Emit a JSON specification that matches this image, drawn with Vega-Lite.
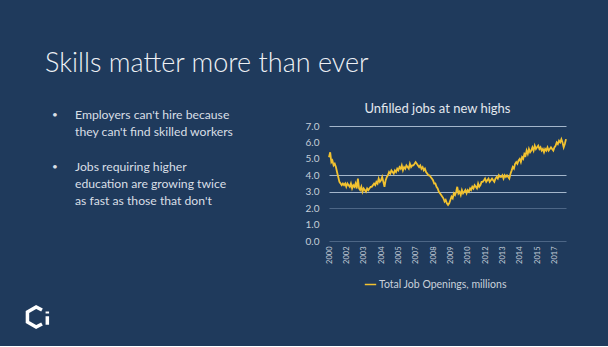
{
  "$schema": "https://vega.github.io/schema/vega-lite/v6.json",
  "background": "#1f3a5c",
  "padding": {"left": 20, "top": 50, "right": 38, "bottom": 11},
  "title": {"text": "Skills matter more than ever", "anchor": "start", "dx": 25, "font": "Lato", "fontWeight": 300, "fontSize": 27, "color": "#eef1f5", "offset": 25},
  "config": {"view": {"stroke": null}},
  "datasets": {
    "bullets": [
      {"line": 1, "text": "Employers can't hire because", "bullet": true},
      {"line": 2, "text": "they can't find skilled workers", "bullet": false},
      {"line": 4, "text": "Jobs requiring higher", "bullet": true},
      {"line": 5, "text": "education are growing twice", "bullet": false},
      {"line": 6, "text": "as fast as those that don't", "bullet": false}
    ],
    "jobs": [
      {"date":"2000-12-01","value":5.1},{"date":"2001-01-01","value":5.4},{"date":"2001-02-01","value":4.8},{"date":"2001-03-01","value":4.9},{"date":"2001-04-01","value":4.6},{"date":"2001-05-01","value":4.7},{"date":"2001-06-01","value":4.5},{"date":"2001-07-01","value":4.2},{"date":"2001-08-01","value":3.9},{"date":"2001-09-01","value":3.6},{"date":"2001-10-01","value":3.5},{"date":"2001-11-01","value":3.4},{"date":"2001-12-01","value":3.5},
      {"date":"2002-01-01","value":3.4},{"date":"2002-02-01","value":3.5},{"date":"2002-03-01","value":3.3},{"date":"2002-04-01","value":3.5},{"date":"2002-05-01","value":3.4},{"date":"2002-06-01","value":3.3},{"date":"2002-07-01","value":3.5},{"date":"2002-08-01","value":3.2},{"date":"2002-09-01","value":3.4},{"date":"2002-10-01","value":3.3},{"date":"2002-11-01","value":3.5},{"date":"2002-12-01","value":3.2},
      {"date":"2003-01-01","value":3.8},{"date":"2003-02-01","value":3.2},{"date":"2003-03-01","value":3.1},{"date":"2003-04-01","value":3.3},{"date":"2003-05-01","value":3.0},{"date":"2003-06-01","value":3.2},{"date":"2003-07-01","value":3.1},{"date":"2003-08-01","value":3.0},{"date":"2003-09-01","value":3.2},{"date":"2003-10-01","value":3.1},{"date":"2003-11-01","value":3.2},{"date":"2003-12-01","value":3.3},
      {"date":"2004-01-01","value":3.3},{"date":"2004-02-01","value":3.4},{"date":"2004-03-01","value":3.5},{"date":"2004-04-01","value":3.4},{"date":"2004-05-01","value":3.6},{"date":"2004-06-01","value":3.5},{"date":"2004-07-01","value":3.8},{"date":"2004-08-01","value":3.6},{"date":"2004-09-01","value":3.7},{"date":"2004-10-01","value":3.9},{"date":"2004-11-01","value":3.6},{"date":"2004-12-01","value":3.3},
      {"date":"2005-01-01","value":3.7},{"date":"2005-02-01","value":3.9},{"date":"2005-03-01","value":4.0},{"date":"2005-04-01","value":4.2},{"date":"2005-05-01","value":4.1},{"date":"2005-06-01","value":4.3},{"date":"2005-07-01","value":4.2},{"date":"2005-08-01","value":4.1},{"date":"2005-09-01","value":4.3},{"date":"2005-10-01","value":4.2},{"date":"2005-11-01","value":4.4},{"date":"2005-12-01","value":4.3},
      {"date":"2006-01-01","value":4.5},{"date":"2006-02-01","value":4.4},{"date":"2006-03-01","value":4.6},{"date":"2006-04-01","value":4.3},{"date":"2006-05-01","value":4.5},{"date":"2006-06-01","value":4.4},{"date":"2006-07-01","value":4.6},{"date":"2006-08-01","value":4.5},{"date":"2006-09-01","value":4.4},{"date":"2006-10-01","value":4.7},{"date":"2006-11-01","value":4.5},{"date":"2006-12-01","value":4.6},
      {"date":"2007-01-01","value":4.6},{"date":"2007-02-01","value":4.7},{"date":"2007-03-01","value":4.8},{"date":"2007-04-01","value":4.7},{"date":"2007-05-01","value":4.6},{"date":"2007-06-01","value":4.5},{"date":"2007-07-01","value":4.6},{"date":"2007-08-01","value":4.4},{"date":"2007-09-01","value":4.5},{"date":"2007-10-01","value":4.3},{"date":"2007-11-01","value":4.4},{"date":"2007-12-01","value":4.2},
      {"date":"2008-01-01","value":4.1},{"date":"2008-02-01","value":4.0},{"date":"2008-03-01","value":4.0},{"date":"2008-04-01","value":3.9},{"date":"2008-05-01","value":3.8},{"date":"2008-06-01","value":3.7},{"date":"2008-07-01","value":3.5},{"date":"2008-08-01","value":3.5},{"date":"2008-09-01","value":3.3},{"date":"2008-10-01","value":3.2},{"date":"2008-11-01","value":3.0},{"date":"2008-12-01","value":2.9},
      {"date":"2009-01-01","value":2.8},{"date":"2009-02-01","value":2.7},{"date":"2009-03-01","value":2.6},{"date":"2009-04-01","value":2.4},{"date":"2009-05-01","value":2.5},{"date":"2009-06-01","value":2.3},{"date":"2009-07-01","value":2.2},{"date":"2009-08-01","value":2.3},{"date":"2009-09-01","value":2.5},{"date":"2009-10-01","value":2.7},{"date":"2009-11-01","value":2.6},{"date":"2009-12-01","value":2.9},
      {"date":"2010-01-01","value":2.8},{"date":"2010-02-01","value":3.0},{"date":"2010-03-01","value":3.3},{"date":"2010-04-01","value":2.9},{"date":"2010-05-01","value":3.0},{"date":"2010-06-01","value":2.8},{"date":"2010-07-01","value":3.1},{"date":"2010-08-01","value":2.9},{"date":"2010-09-01","value":3.0},{"date":"2010-10-01","value":3.1},{"date":"2010-11-01","value":2.9},{"date":"2010-12-01","value":3.1},
      {"date":"2011-01-01","value":3.0},{"date":"2011-02-01","value":3.2},{"date":"2011-03-01","value":3.1},{"date":"2011-04-01","value":3.3},{"date":"2011-05-01","value":3.2},{"date":"2011-06-01","value":3.4},{"date":"2011-07-01","value":3.3},{"date":"2011-08-01","value":3.2},{"date":"2011-09-01","value":3.5},{"date":"2011-10-01","value":3.3},{"date":"2011-11-01","value":3.4},{"date":"2011-12-01","value":3.6},
      {"date":"2012-01-01","value":3.6},{"date":"2012-02-01","value":3.7},{"date":"2012-03-01","value":3.8},{"date":"2012-04-01","value":3.6},{"date":"2012-05-01","value":3.7},{"date":"2012-06-01","value":3.8},{"date":"2012-07-01","value":3.6},{"date":"2012-08-01","value":3.7},{"date":"2012-09-01","value":3.8},{"date":"2012-10-01","value":3.7},{"date":"2012-11-01","value":3.6},{"date":"2012-12-01","value":3.8},
      {"date":"2013-01-01","value":3.9},{"date":"2013-02-01","value":3.8},{"date":"2013-03-01","value":4.0},{"date":"2013-04-01","value":3.9},{"date":"2013-05-01","value":3.9},{"date":"2013-06-01","value":4.0},{"date":"2013-07-01","value":3.8},{"date":"2013-08-01","value":4.0},{"date":"2013-09-01","value":3.9},{"date":"2013-10-01","value":4.0},{"date":"2013-11-01","value":3.9},{"date":"2013-12-01","value":3.8},
      {"date":"2014-01-01","value":4.1},{"date":"2014-02-01","value":4.3},{"date":"2014-03-01","value":4.5},{"date":"2014-04-01","value":4.4},{"date":"2014-05-01","value":4.7},{"date":"2014-06-01","value":4.8},{"date":"2014-07-01","value":4.7},{"date":"2014-08-01","value":4.9},{"date":"2014-09-01","value":5.0},{"date":"2014-10-01","value":4.8},{"date":"2014-11-01","value":5.1},{"date":"2014-12-01","value":5.0},
      {"date":"2015-01-01","value":5.3},{"date":"2015-02-01","value":5.2},{"date":"2015-03-01","value":5.5},{"date":"2015-04-01","value":5.3},{"date":"2015-05-01","value":5.6},{"date":"2015-06-01","value":5.4},{"date":"2015-07-01","value":5.5},{"date":"2015-08-01","value":5.7},{"date":"2015-09-01","value":5.5},{"date":"2015-10-01","value":5.8},{"date":"2015-11-01","value":5.6},{"date":"2015-12-01","value":5.7},
      {"date":"2016-01-01","value":5.8},{"date":"2016-02-01","value":5.6},{"date":"2016-03-01","value":5.7},{"date":"2016-04-01","value":5.5},{"date":"2016-05-01","value":5.6},{"date":"2016-06-01","value":5.4},{"date":"2016-07-01","value":5.6},{"date":"2016-08-01","value":5.5},{"date":"2016-09-01","value":5.7},{"date":"2016-10-01","value":5.5},{"date":"2016-11-01","value":5.6},{"date":"2016-12-01","value":5.7},
      {"date":"2017-01-01","value":5.6},{"date":"2017-02-01","value":5.5},{"date":"2017-03-01","value":5.7},{"date":"2017-04-01","value":5.8},{"date":"2017-05-01","value":6.0},{"date":"2017-06-01","value":5.9},{"date":"2017-07-01","value":6.1},{"date":"2017-08-01","value":6.0},{"date":"2017-09-01","value":6.2},{"date":"2017-10-01","value":6.0},{"date":"2017-11-01","value":5.7},{"date":"2017-12-01","value":5.9},
      {"date":"2018-01-01","value":6.2}
    ]
  },
  "spacing": 14,
  "hconcat": [
    {
      "width": 271,
      "height": 200,
      "data": {"name": "bullets"},
      "layer": [
        {
          "mark": {"type": "text", "align": "left", "baseline": "middle", "font": "Lato", "fontSize": 12.2, "color": "#d9dfe6"},
          "encoding": {
            "x": {"datum": 2.03, "type": "quantitative", "scale": {"domain": [0, 10]}, "axis": null},
            "y": {"field": "line", "type": "quantitative", "scale": {"domain": [1.64, 13.2], "reverse": true}, "axis": null},
            "text": {"field": "text"}
          }
        },
        {
          "transform": [{"filter": "datum.bullet"}],
          "mark": {"type": "text", "align": "center", "baseline": "middle", "font": "Lato", "fontSize": 10, "color": "#d9dfe6"},
          "encoding": {
            "x": {"datum": 1.29, "type": "quantitative", "scale": {"domain": [0, 10]}, "axis": null},
            "y": {"field": "line", "type": "quantitative", "scale": {"domain": [1.64, 13.2], "reverse": true}, "axis": null},
            "text": {"value": "•"}
          }
        },
        {
          "data": {"values": [{"logo": "Ci"}]},
          "mark": {"type": "point", "shape": "M0.12,-0.5L-0.3,-0.72L-0.92,-0.36L-0.92,0.36L-0.3,0.72L0.12,0.5M0.5,-0.05L0.5,0.55M0.5,-0.4L0.5,-0.25", "filled": false, "stroke": "#ffffff", "strokeWidth": 3.5, "size": 784, "opacity": 1},
          "encoding": {
            "x": {"datum": 0.75, "type": "quantitative", "scale": {"domain": [0, 10]}, "axis": null},
            "y": {"datum": 12.68, "type": "quantitative", "scale": {"domain": [1.64, 13.2], "reverse": true}, "axis": null}
          }
        }
      ]
    },
    {
      "width": 237,
      "height": 115,
      "data": {"name": "jobs"},
      "title": {"text": "Unfilled jobs at new highs", "font": "Lato", "fontSize": 13, "fontWeight": 400, "color": "#e3e8ee", "offset": 5, "dx": -10, "anchor": "middle"},
      "mark": {"type": "line", "strokeWidth": 1.8},
      "encoding": {
        "x": {
          "field": "date", "type": "temporal",
          "scale": {"type": "utc", "domain": [{"year": 2000, "month": 12, "date": 1, "utc": true}, {"year": 2018, "month": 1, "date": 1, "utc": true}]},
          "axis": {
            "values": [
              {"year": 2000, "month": 12, "date": 1, "utc": true},
              {"year": 2002, "month": 3, "date": 1, "utc": true},
              {"year": 2003, "month": 6, "date": 1, "utc": true},
              {"year": 2004, "month": 9, "date": 1, "utc": true},
              {"year": 2005, "month": 12, "date": 1, "utc": true},
              {"year": 2007, "month": 3, "date": 1, "utc": true},
              {"year": 2008, "month": 6, "date": 1, "utc": true},
              {"year": 2009, "month": 9, "date": 1, "utc": true},
              {"year": 2010, "month": 12, "date": 1, "utc": true},
              {"year": 2012, "month": 3, "date": 1, "utc": true},
              {"year": 2013, "month": 6, "date": 1, "utc": true},
              {"year": 2014, "month": 9, "date": 1, "utc": true},
              {"year": 2015, "month": 12, "date": 1, "utc": true},
              {"year": 2017, "month": 3, "date": 1, "utc": true}
            ],
            "format": "%Y", "labelAngle": 270, "labelFont": "Lato", "labelFontSize": 7.5, "labelColor": "#c5ced9",
            "ticks": false, "domain": false, "grid": false, "title": null, "labelPadding": 5, "labelOverlap": false, "labelFlush": false
          }
        },
        "y": {
          "field": "value", "type": "quantitative",
          "scale": {"domain": [0, 7], "nice": false},
          "axis": {
            "values": [0, 1, 2, 3, 4, 5, 6, 7], "format": ".1f", "title": null,
            "labelFont": "Lato", "labelFontSize": 10, "labelColor": "#c5ced9", "labelPadding": 10,
            "ticks": false, "domain": false, "grid": true, "gridWidth": 1.2,
            "gridColor": {"condition": {"test": "datum.value == 2 || datum.value == 0", "value": "#4d6686"}, "value": "#a4b6cb"},
            "gridOpacity": {"condition": {"test": "datum.value == 1 || datum.value == 5 || datum.value == 6", "value": 0}, "value": 1}
          }
        },
        "color": {
          "datum": "Total Job Openings, millions",
          "scale": {"range": ["#f2c230"]},
          "legend": {"orient": "none", "legendX": 344, "legendY": 152, "title": null, "symbolType": "stroke", "symbolStrokeWidth": 1.5, "symbolSize": 130, "labelFont": "Lato", "labelFontSize": 10.5, "labelColor": "#c9d1db", "padding": 0, "direction": "horizontal", "labelOffset": 2}
        }
      }
    }
  ]
}
